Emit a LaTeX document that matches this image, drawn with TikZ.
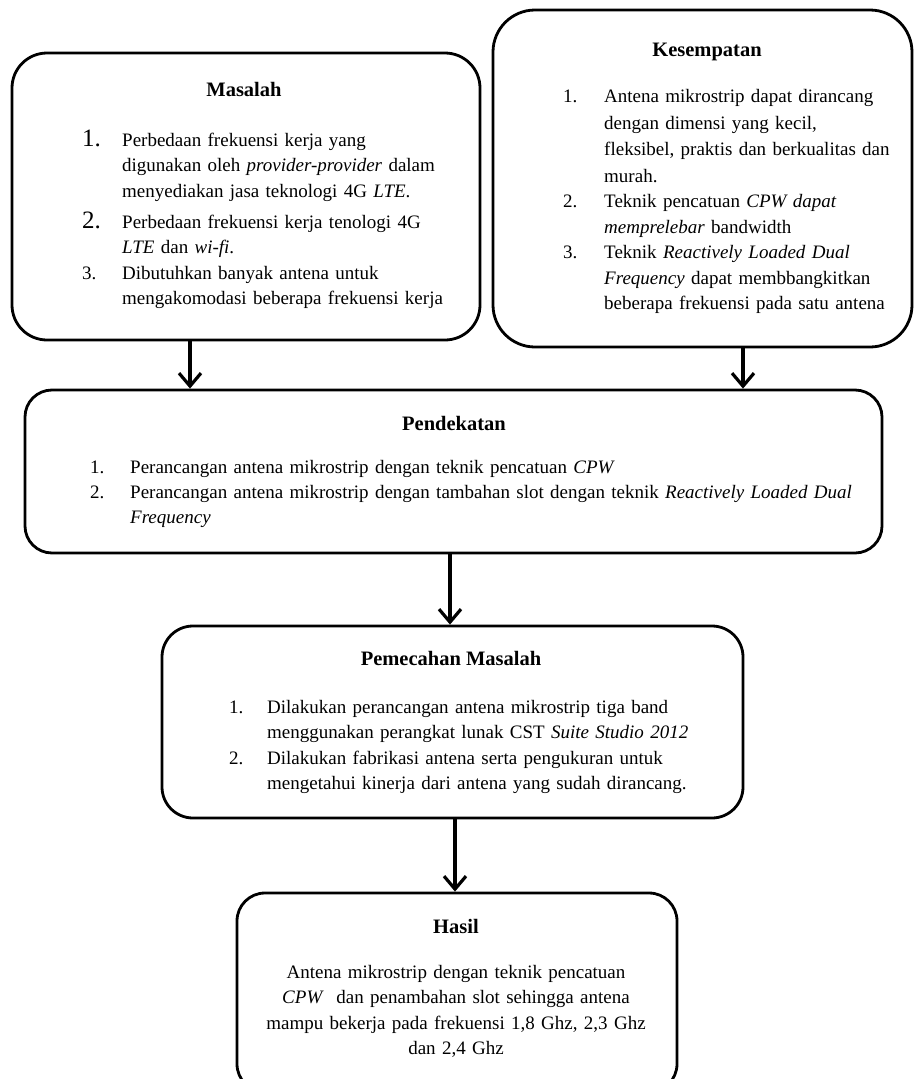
\documentclass[tikz,border=0pt]{standalone}
\usepackage{fontspec}
\setmainfont{Liberation Serif}
\usetikzlibrary{arrows.meta}
\begin{document}
\begin{tikzpicture}[x=1pt,y=-1pt,
  box/.style={draw, line width=2.8pt, rounded corners=#1, inner sep=0pt, fill=white},
  box/.default=30pt,
  arr/.style={line width=3.2pt, -{Straight Barb[length=13pt,width=22pt]}},
  ttl/.style={font=\fontsize{20.5}{25.5}\selectfont\bfseries, inner sep=0pt, anchor=base},
  num/.style={font=\fontsize{19}{25.5}\selectfont, inner sep=0pt, anchor=base west},
  numbig/.style={font=\fontsize{25}{25.5}\selectfont, inner sep=0pt, anchor=base west},
  txt/.style={font=\fontsize{19}{25.5}\selectfont, inner sep=0pt, anchor=base west, align=left, text width=#1},
  txt/.default=350pt
]
\useasboundingbox (0,0) rectangle (913,1079);
\fill[white] (0,0) rectangle (913,1079);

% boxes
\node[box=35pt, minimum width=468pt, minimum height=287pt] (masalah) at (246,196.5) {};
\node[box=42pt, minimum width=419pt, minimum height=337pt] (kesempatan) at (702.5,178.5) {};
\node[box=27pt, minimum width=857pt, minimum height=163pt] (pend) at (453.5,471.5) {};
\node[box=31pt, minimum width=581pt, minimum height=192pt] (pemecahan) at (452.5,722) {};
\node[box=28pt, minimum width=440pt, minimum height=199pt] (hasil) at (457,992.5) {};

% arrows
\coordinate (xa) at (190,0);
\coordinate (xb) at (743,0);
\coordinate (xc) at (450,0);
\coordinate (xd) at (455,0);
\draw[arr] (masalah.south -| xa) -- (pend.north -| xa);
\draw[arr] (kesempatan.south -| xb) -- (pend.north -| xb);
\draw[arr] (pend.south -| xc) -- (pemecahan.north -| xc);
\draw[arr] (pemecahan.south -| xd) -- (hasil.north -| xd);

% Masalah
\node[ttl] (mt) at (244,96) {Masalah};
\node[numbig] (m1n) at (82,146) {1.};
\node[txt] (m1) at (122,146) {Perbedaan frekuensi kerja yang\\ digunakan oleh \textit{provider-provider} dalam\\ menyediakan jasa teknologi 4G \textit{LTE}.};
\node[numbig] (m2n) at (82,228) {2.};
\node[txt] (m2) at (122,228) {Perbedaan frekuensi kerja tenologi 4G\\ \textit{LTE} dan \textit{wi-fi}.};
\node[num] (m3n) at (82,279) {3.};
\node[txt] (m3) at (122,279) {Dibutuhkan banyak antena untuk\\ mengakomodasi beberapa frekuensi kerja};

% Kesempatan
\node[ttl] (kt) at (707,56) {Kesempatan};
\node[num] (k1n) at (563,102.5) {1.};
\node[txt=300pt, font=\fontsize{19}{26.5}\selectfont] (k1) at (604,102.5) {Antena mikrostrip dapat dirancang\\ dengan dimensi yang kecil,\\ fleksibel, praktis dan berkualitas dan\\ murah.};
\node[num] (k2n) at (563,207.5) {2.};
\node[txt=300pt] (k2) at (604,207.5) {Teknik pencatuan \textit{CPW dapat}\\ \textit{memprelebar} bandwidth};
\node[num] (k3n) at (563,258.5) {3.};
\node[txt=300pt] (k3) at (604,258.5) {Teknik \textit{Reactively Loaded Dual}\\ \textit{Frequency} dapat membbangkitkan\\ beberapa frekuensi pada satu antena};

% Pendekatan
\node[ttl] (pt) at (454,430) {Pendekatan};
\node[num] (p1n) at (90,473) {1.};
\node[txt=760pt] (p1) at (130,473) {Perancangan antena mikrostrip dengan teknik pencatuan \textit{CPW}};
\node[num] (p2n) at (90,498) {2.};
\node[txt=760pt] (p2) at (130,498) {Perancangan antena mikrostrip dengan tambahan slot dengan teknik \textit{Reactively Loaded Dual}\\ \textit{Frequency}};

% Pemecahan Masalah
\node[ttl] (qt) at (451,665) {Pemecahan Masalah};
\node[num] (q1n) at (229,713) {1.};
\node[txt=470pt] (q1) at (267,713) {Dilakukan perancangan antena mikrostrip tiga band\\ menggunakan perangkat lunak CST \textit{Suite Studio 2012}};
\node[num] (q2n) at (229,764) {2.};
\node[txt=470pt] (q2) at (267,764) {Dilakukan fabrikasi antena serta pengukuran untuk\\ mengetahui kinerja dari antena yang sudah dirancang.};

% Hasil
\node[ttl] (ht) at (456,933) {Hasil};
\node[txt=430pt, align=center, anchor=base] (h1) at (456,978) {Antena mikrostrip dengan teknik pencatuan\\ \textit{CPW}\ \ dan penambahan slot sehingga antena\\ mampu bekerja pada frekuensi 1,8 Ghz, 2,3 Ghz\\ dan 2,4 Ghz};
\end{tikzpicture}
\end{document}
